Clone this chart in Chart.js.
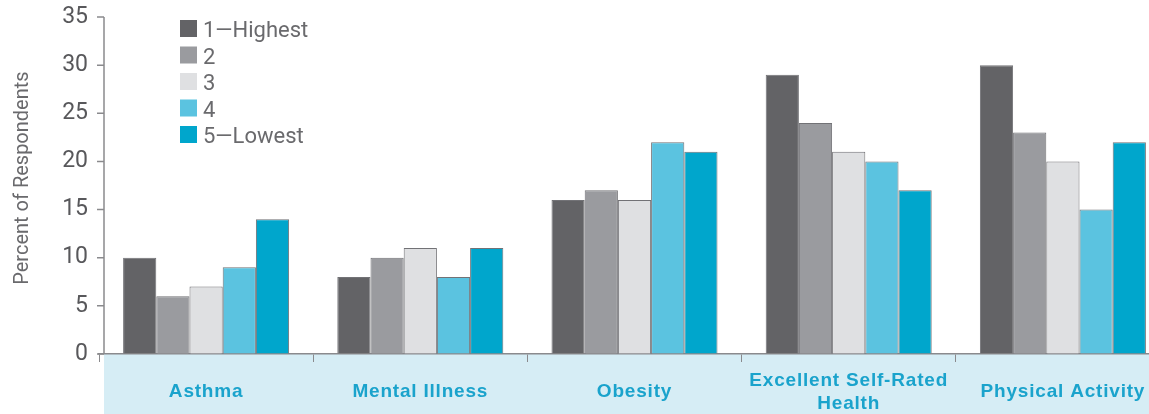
<!DOCTYPE html>
<html>
<head>
<meta charset="utf-8">
<script src="https://cdn.jsdelivr.net/npm/chart.js@4"></script>
<style>
  html, body { margin: 0; padding: 0; background: #fff; overflow: hidden; }
  #wrap { position: relative; width: 1171px; height: 414px; }
</style>
</head>
<body>
<div id="wrap"><canvas id="myChart"></canvas></div>
<script>
const categories = [
    ["Asthma"],
    ["Mental Illness"],
    ["Obesity"],
    ["Excellent Self-Rated", "Health"],
    ["Physical Activity"]
];
const seriesLabels = ["1\u2014Highest", "2", "3", "4", "5\u2014Lowest"];
const highest = [10, 8, 16, 29, 30];
const second = [6, 10, 17, 24, 23];
const third = [7, 11, 16, 21, 20];
const fourth = [9, 8, 22, 20, 15];
const lowest = [14, 11, 21, 17, 22];
const yTicks = [0, 5, 10, 15, 20, 25, 30, 35];

const colors = ['#636366', '#9a9b9f', '#dfe0e2', '#5bc3e0', '#00a6cc'];
const textFont = "Roboto, 'Liberation Sans', sans-serif";
const bandColor = '#d6edf5';
const labelBlue = '#1aa3cc';
const axisGray = '#8a8a8d';
const yAxisX = 104;

const ctx = document.getElementById("myChart").getContext('2d');

// light blue band under the plot, category names, and the y axis line
const bandPlugin = {
    id: 'band',
    beforeDraw: function(chart) {
        const c = chart.ctx, a = chart.chartArea;
        c.save();
        c.fillStyle = bandColor;
        c.fillRect(yAxisX, a.bottom, chart.width - yAxisX, chart.height - a.bottom);
        c.restore();
    },
    afterDraw: function(chart) {
        const c = chart.ctx, x = chart.scales.x, y = chart.scales.y;
        const a = chart.chartArea;
        const mid = a.bottom + 38;
        const lh = 23;
        c.save();
        c.fillStyle = labelBlue;
        c.font = "bold 19px 'Liberation Sans', Arial, sans-serif";
        c.letterSpacing = '0.8px';
        c.textAlign = 'center';
        c.textBaseline = 'middle';
        categories.forEach(function(lines, i) {
            const px = x.getPixelForValue(i);
            const top = mid - (lines.length - 1) * lh / 2;
            lines.forEach(function(t, j) { c.fillText(t, px, top + j * lh); });
        });
        // y axis line and its tick marks
        c.strokeStyle = axisGray;
        c.lineWidth = 1.5;
        c.beginPath();
        c.moveTo(yAxisX, y.getPixelForValue(35));
        c.lineTo(yAxisX, a.bottom);
        yTicks.forEach(function(v) {
            const py = y.getPixelForValue(v);
            c.moveTo(yAxisX - 7, py);
            c.lineTo(yAxisX, py);
        });
        c.stroke();
        c.restore();
    }
};

// legend sits inside the plot, top left
const legendPlugin = {
    id: 'innerLegend',
    afterDraw: function(chart) {
        const c = chart.ctx;
        c.save();
        c.font = "22px " + textFont;
        c.textBaseline = 'alphabetic';
        chart.data.datasets.forEach(function(ds, i) {
            const y = 20 + i * 26.5;
            c.fillStyle = ds.backgroundColor;
            c.fillRect(180, y, 17, 17);
            c.fillStyle = '#6a6a6d';
            c.fillText(ds.label, 203, y + 17);
        });
        c.restore();
    }
};

const series = [highest, second, third, fourth, lowest];

new Chart(ctx, {
    type: 'bar',
    data: {
        labels: categories.map(function(l) { return l.join(' '); }),
        datasets: series.map(function(d, i) {
            return {
                label: seriesLabels[i],
                data: d,
                backgroundColor: colors[i],
                borderColor: '#727276',
                borderWidth: 1,
                borderSkipped: 'bottom'
            };
        })
    },
    options: {
        responsive: true,
        maintainAspectRatio: false,
        animation: false,
        layout: { padding: { top: 17, right: 1, left: 0, bottom: 0 } },
        plugins: {
            legend: { display: false },
            tooltip: { enabled: false }
        },
        datasets: {
            bar: { categoryPercentage: 0.775, barPercentage: 1 }
        },
        scales: {
            x: {
                grid: {
                    display: true,
                    offset: true,
                    drawOnChartArea: false,
                    drawTicks: true,
                    tickLength: 8,
                    color: axisGray,
                    tickColor: axisGray
                },
                border: { display: true, color: axisGray, width: 1.5 },
                ticks: { display: false },
                afterFit: function(scale) { scale.height = 60; }
            },
            y: {
                min: 0,
                max: 35,
                afterBuildTicks: function(scale) {
                    scale.ticks = yTicks.map(function(v) { return { value: v }; });
                },
                grid: {
                    drawOnChartArea: false,
                    drawTicks: true,
                    tickLength: 11,
                    tickColor: 'rgba(0,0,0,0)'
                },
                border: { display: false },
                ticks: {
                    color: '#58585b',
                    padding: 0,
                    font: { family: textFont, size: 23 }
                },
                title: {
                    display: true,
                    text: '\u00a0\u00a0\u00a0Percent of Respondents',
                    color: '#6a6a6d',
                    padding: { top: 11, bottom: 0 },
                    font: { family: textFont, size: 20 }
                },
                afterFit: function(scale) { scale.width = 99; }
            }
        }
    },
    plugins: [bandPlugin, legendPlugin]
});
</script>
</body>
</html>
